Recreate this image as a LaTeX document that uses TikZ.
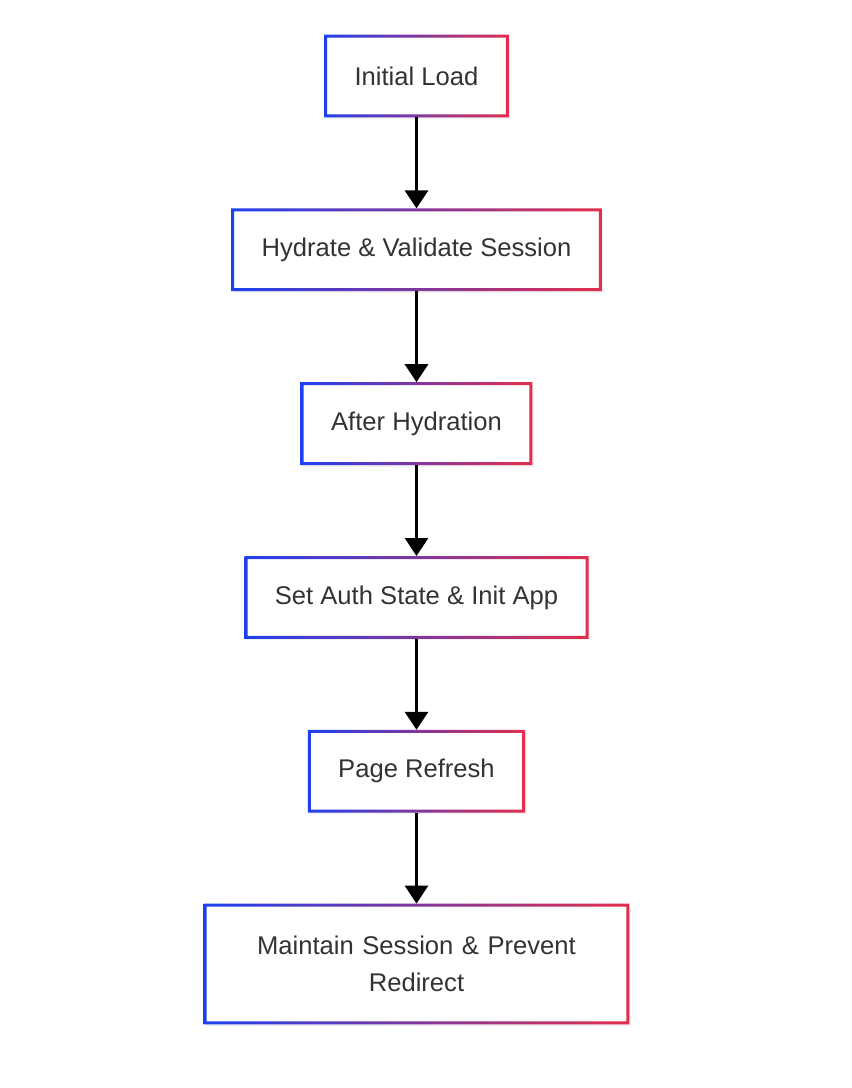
\documentclass[tikz,border=0pt]{standalone}
\usepackage{fontspec}
\setmainfont{Liberation Sans}
\usetikzlibrary{positioning,arrows.meta,shadows}
\definecolor{gradblue}{RGB}{30,64,240}
\definecolor{gradred}{RGB}{226,46,76}
\definecolor{txtgray}{RGB}{51,51,51}

\begin{document}
\begin{tikzpicture}[node distance=45.5pt,
  every node/.style={rectangle,fill=white,text=txtgray,font=\fontsize{12.8}{18.5}\selectfont,minimum height=41pt,inner xsep=15pt,drop shadow={opacity=0.12,shadow xshift=1pt,shadow yshift=-1pt}},
  link/.style={line width=1.5pt,-{Triangle[width=11.5pt,length=9pt]}}]
  \useasboundingbox (0,0) rectangle (426pt,-544pt);
  \node (1) at (208.25pt,-38pt) {Initial Load};
  \node[below=of 1] (2) {Hydrate \& Validate Session};
  \node[below=of 2] (3) {After Hydration};
  \node[below=of 3] (4) {Set Auth State \& Init App};
  \node[below=of 4] (5) {Page Refresh};
  \node[below=of 5,minimum height=60pt,text width=182.5pt,align=center] (6) {Maintain Session \& Prevent\\Redirect};

  % gradient borders
  \foreach \n in {1,...,6}
    \shade[even odd rule,left color=gradblue,right color=gradred] (\n.south west) rectangle (\n.north east) ([shift={(1.5pt,1.5pt)}]\n.south west) rectangle ([shift={(-1.5pt,-1.5pt)}]\n.north east);

  \foreach \a/\b in {1/2,2/3,3/4,4/5,5/6}
    \draw[link] (\a) -- (\b);
\end{tikzpicture}
\end{document}
